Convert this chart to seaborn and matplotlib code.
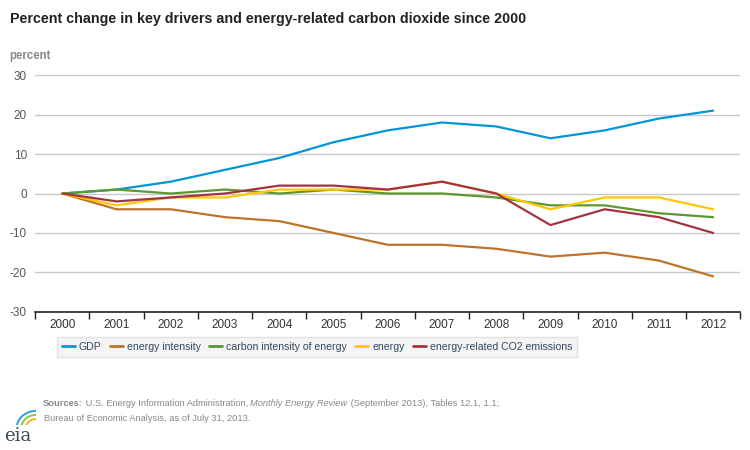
import matplotlib
matplotlib.use("Agg")
import matplotlib.pyplot as plt
from matplotlib.patches import Arc
import seaborn as sns
import pandas as pd

years = [str(y) for y in range(2000, 2013)]
gdp = [0, 1, 3, 6, 9, 13, 16, 18, 17, 14, 16, 19, 21]
energy_intensity = [0, -4, -4, -6, -7, -10, -13, -13, -14, -16, -15, -17, -21]
carbon_intensity = [0, 1, 0, 1, 0, 1, 0, 0, -1, -3, -3, -5, -6]
energy = [0, -3, -1, -1, 1, 1, 1, 3, 0, -4, -1, -1, -4]
co2 = [0, -2, -1, 0, 2, 2, 1, 3, 0, -8, -4, -6, -10]

series_names = ["GDP", "energy intensity", "carbon intensity of energy",
                "energy", "energy-related CO2 emissions"]
series_values = [gdp, energy_intensity, carbon_intensity, energy, co2]
colors = ["#0096d7", "#bd732a", "#5d9732", "#ffc702", "#a33340"]
y_ticks = [-30, -20, -10, 0, 10, 20, 30]

rows = []
for name, vals in zip(series_names, series_values):
    for y, v in zip(years, vals):
        rows.append({"year": y, "value": v, "series": name})
df = pd.DataFrame(rows)

sns.set_theme(style="white")
plt.rcParams["font.family"] = ["Liberation Sans", "DejaVu Sans"]

fig = plt.figure(figsize=(7.5, 4.5), dpi=100)
ax = fig.add_axes([0.047, 0.307, 0.940, 0.526])

sns.lineplot(data=df, x="year", y="value", hue="series", hue_order=series_names,
             palette=colors, linewidth=1.6, ax=ax, legend=False, sort=False)

ax.set_xlim(-0.5, len(years) - 0.5)
ax.set_ylim(-30, 30)
ax.set_yticks(y_ticks)
ax.set_yticklabels([str(t) for t in y_ticks], color="#555555", fontsize=8.5)
for t in y_ticks[1:]:
    ax.axhline(t, color="#c8c8c8", linewidth=1, zorder=0)

ax.set_xticks(range(len(years)))
ax.set_xticklabels(years, fontsize=8.5, color="#333333")
ax.set_xticks([i - 0.5 for i in range(len(years) + 1)], minor=True)
ax.tick_params(axis="x", which="major", length=0, pad=5)
ax.tick_params(axis="x", which="minor", length=5, width=1, color="#222222", direction="out", bottom=True)
ax.tick_params(axis="y", length=0, pad=6)
ax.set_xlabel("")
ax.set_ylabel("")
for s in ["top", "right", "left"]:
    ax.spines[s].set_visible(False)
ax.spines["bottom"].set_color("#222222")
ax.spines["bottom"].set_linewidth(1.2)

# legend
handles = [plt.Line2D([0], [0], color=c, linewidth=2) for c in colors]
leg = fig.legend(handles, series_names, loc="center", bbox_to_anchor=(0.423, 0.229),
                 ncol=5, frameon=True, fontsize=7.6, handlelength=1.2,
                 handletextpad=0.4, columnspacing=0.8, borderpad=0.45,
                 borderaxespad=0.3, fancybox=False)
leg.get_frame().set_facecolor("#f2f2f2")
leg.get_frame().set_edgecolor("#dddddd")
for t in leg.get_texts():
    t.set_color("#34495e")

# title texts
fig.text(0.013, 0.958, "Percent change in key drivers and energy-related carbon dioxide since 2000",
         fontsize=10.3, fontweight="bold", color="#222222", va="center", ha="left")
fig.text(0.013, 0.876, "percent", fontsize=8.3, fontweight="bold", color="#888888",
         va="center", ha="left")

# sources
src_color = "#888888"
fs = 6.7
t1 = fig.text(0.057, 0.097, "Sources:", fontsize=fs, fontweight="bold", color=src_color,
              va="baseline", ha="left")
a2 = ax.annotate(" U.S. Energy Information Administration, ", xy=(1, 0), xycoords=t1,
                 fontsize=fs, color=src_color, va="bottom", ha="left", annotation_clip=False)
a3 = ax.annotate("Monthly Energy Review", xy=(1, 0), xycoords=a2, fontsize=fs,
                 style="italic", color=src_color, va="bottom", ha="left", annotation_clip=False)
a4 = ax.annotate(" (September 2013), Tables 12.1, 1.1;", xy=(1, 0), xycoords=a3,
                 fontsize=fs, color=src_color, va="bottom", ha="left", annotation_clip=False)
fig.text(0.059, 0.064, "Bureau of Economic Analysis, as of July 31, 2013.", fontsize=fs,
         color=src_color, va="baseline", ha="left")

# eia logo
fig.text(0.006, 0.012, "eia", fontsize=13, family="DejaVu Serif", color="#3a4a5a",
         va="bottom", ha="left")
lax = fig.add_axes([0.012, 0.055, 0.04, 0.04])
lax.set_xlim(0, 1)
lax.set_ylim(0, 1)
lax.axis("off")
for i, c in enumerate(["#2a9fd6", "#8cc63f", "#f7b718"]):
    lax.add_patch(Arc((0.9, -0.2), 1.3 - i * 0.3, 2.0 - i * 0.45, theta1=90, theta2=180,
                      color=c, linewidth=1.4))

fig.savefig("out.png", dpi=100)
